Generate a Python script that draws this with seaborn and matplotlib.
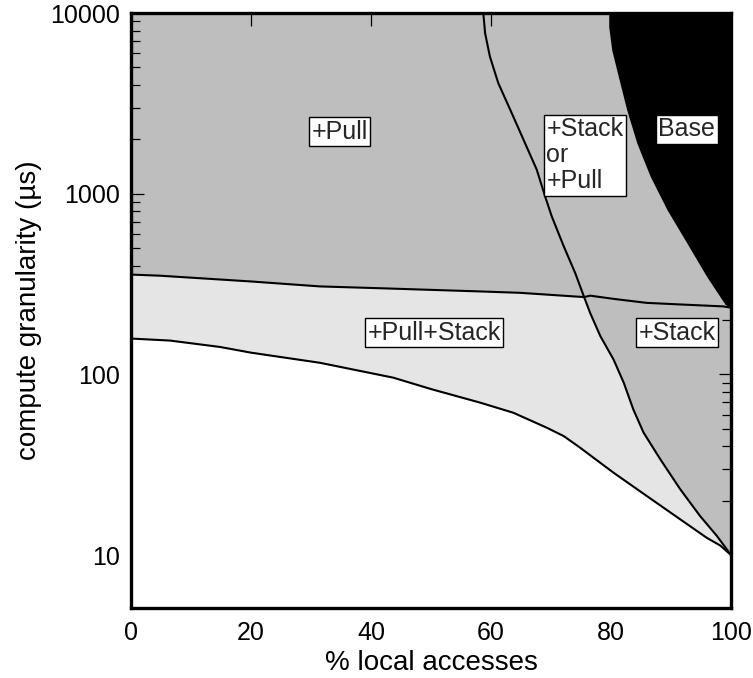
"""Region map: compute granularity vs % local accesses."""
import numpy as np
import matplotlib
matplotlib.use("Agg")
import matplotlib.pyplot as plt
import matplotlib.ticker as mticker
import seaborn as sns

sns.set_theme(style="ticks")
plt.rcParams["font.family"] = ["Liberation Sans", "DejaVu Sans"]

# ── boundary curves (x = % local, y = granularity µs) ──
lower_x = [0, 6.5, 14.8, 20, 31.5, 43.7, 50, 58.2, 63.7, 69.3, 72.1, 74.8, 80.4,
           85.9, 91.5, 95.9, 98.2, 100]
lower_y = [158, 154, 142, 132, 116, 96, 83, 69.8, 61.4, 50.7, 45.6, 39.4, 28.6,
           21.3, 15.8, 12.5, 11.3, 10]

mid_x = [0, 4.8, 20, 31.5, 41.5, 58.2, 64.8, 75.5, 76.5, 80.4, 85.9, 91.5, 98.7, 100]
mid_y = [357, 352, 327, 307, 300, 288, 283, 268, 273, 262, 249, 244, 238, 234]

steep_x = [58.7, 59.0, 59.8, 61.2, 63.2, 65.4, 67.6, 69.0, 70.1, 72.1, 74.0, 75.5,
           76.5, 78.2, 80.4, 82.1, 83.7, 85.4, 88.2, 91.5, 94.8, 97.6, 100]
steep_y = [10000, 7730, 5740, 4090, 2910, 1990, 1360, 966, 750, 512, 365, 268,
           219, 163, 121, 90, 64, 47.7, 33.9, 23.2, 16.5, 12.8, 10]

base_x = [79.6, 79.6, 80.1, 81.2, 82.6, 84.3, 86.5, 89.3, 92.6, 95.9, 99.0, 100]
base_y = [10000, 8400, 6250, 4450, 2910, 1900, 1250, 817, 535, 349, 244, 234]

cross_x = 75.5  # where the steep curve meets the middle curve

labels = ["+Pull", "+Stack\nor\n+Pull", "Base", "+Pull+Stack", "+Stack"]
label_x = [34.8, 69.2, 92.6, 50.5, 91]
label_y = [2200, 2650, 2270, 170, 170]

x_ticks = [0, 20, 40, 60, 80, 100]
y_ticks = [10, 100, 1000, 10000]

# colours
MID_GRAY = "#bebebe"
LIGHT_GRAY = "#e5e5e5"

fig = plt.figure(figsize=(7.53, 6.78), dpi=100)
ax = fig.add_axes([0.174, 0.1032, 0.797, 0.8776])
ax.set_yscale("log")
ax.set_xlim(0, 100)
ax.set_ylim(5.1, 10000)
ax.set_facecolor(MID_GRAY)

# white area below the lowest curve
ax.fill_between(lower_x, lower_y, 1, color="white", lw=0, zorder=1)

# light gray: between lower and middle curve, left of the steep curve
mx, my = np.array(mid_x), np.array(mid_y)
sx, sy = np.array(steep_x), np.array(steep_y)
i_mid = int(np.where(mx == cross_x)[0][0])
i_st = int(np.where(sx == cross_x)[0][0])
poly_x = np.concatenate([mx[:i_mid + 1], sx[i_st + 1:], lower_x[::-1]])
poly_y = np.concatenate([my[:i_mid + 1], sy[i_st + 1:], lower_y[::-1]])
ax.fill(poly_x, poly_y, color=LIGHT_GRAY, lw=0, zorder=1)

# black "Base" region in upper right
ax.fill_between(base_x, base_y, 1e5, color="black", lw=0, zorder=1)

# boundary lines
for xs, ys in [(lower_x, lower_y), (mid_x, mid_y), (steep_x, steep_y)]:
    sns.lineplot(x=xs, y=ys, sort=False, estimator=None, color="black",
                 lw=1.5, ax=ax, zorder=3)

# region labels
for txt, lx, ly in zip(labels, label_x, label_y):
    multi = "\n" in txt
    ax.text(lx, ly, txt, fontsize=18, ha="left" if multi else "center",
            va="top" if multi else "center", linespacing=1.1, zorder=5,
            bbox=dict(boxstyle="square,pad=0.1", fc="white", ec="black", lw=1))

# axes styling
ax.set_xticks(x_ticks)
ax.set_yticks(y_ticks)
ax.yaxis.set_major_formatter(mticker.FuncFormatter(lambda v, _: f"{int(v)}"))
ax.yaxis.set_minor_locator(mticker.LogLocator(base=10, subs=np.arange(2, 10)))
ax.yaxis.set_minor_formatter(mticker.NullFormatter())
ax.tick_params(axis="both", which="major", direction="in", length=9, width=0.9,
               labelsize=18, top=True, right=True, color="black", labelcolor="black")
ax.tick_params(axis="y", which="minor", direction="in", length=6.5, width=0.9,
               right=True, color="black")
ax.tick_params(axis="x", which="major", pad=9)
ax.tick_params(axis="y", which="major", pad=8)
for sp in ax.spines.values():
    sp.set_linewidth(2.4)
    sp.set_color("black")
    sp.set_zorder(6)

ax.set_xlabel("% local accesses", fontsize=20, color="black", labelpad=4)
ax.set_ylabel("compute granularity (µs)", fontsize=20, color="black", labelpad=6)
ax.grid(False)

plt.savefig("out.png", dpi=100)
plt.close()
